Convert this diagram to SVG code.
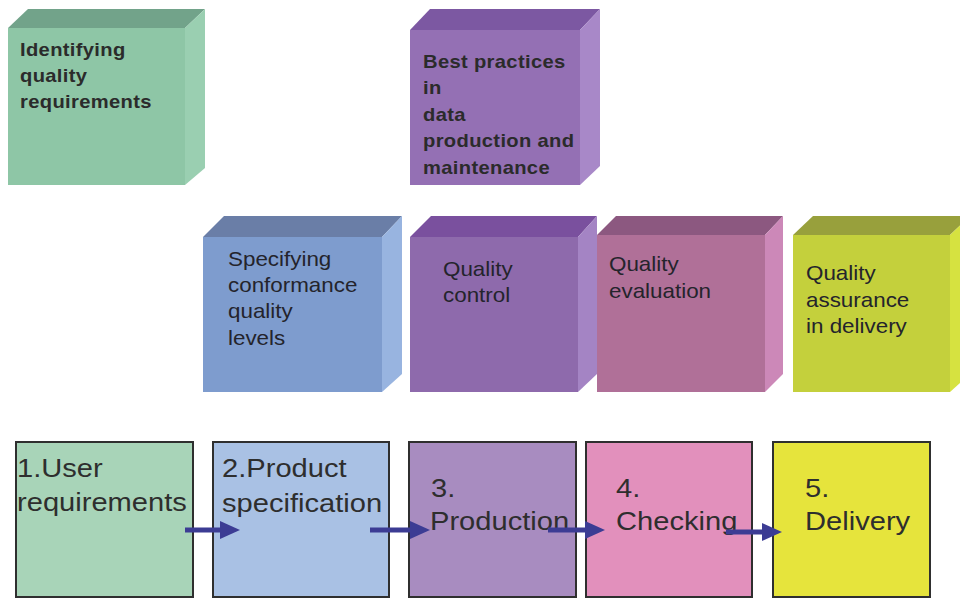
<svg xmlns="http://www.w3.org/2000/svg" width="960" height="599" viewBox="0 0 960 599">
  <style>
    .t1 { font-family: "Liberation Sans", Arial, sans-serif; font-size: 18px; font-weight: bold; letter-spacing: 0.3px; fill: #2b2b2b; }
    .t2 { font-family: "Liberation Sans", Arial, sans-serif; font-size: 20px; fill: #24242c; }
    .t3 { font-family: "Liberation Sans", Arial, sans-serif; font-size: 26px; fill: #2e2e2e; }
    .step { stroke: #2f2f2f; stroke-width: 2; }
    .conn { stroke: #3c3c94; stroke-width: 5; fill: none; marker-end: url(#head); }
  </style>
  <defs>
    <marker id="head" markerUnits="userSpaceOnUse" markerWidth="20" markerHeight="18" refX="2" refY="9" orient="auto">
      <path d="M0,0 L20,9 L0,18 Z" fill="#3c3c94"/>
    </marker>
  </defs>
  <rect width="960" height="599" fill="#ffffff"/>

  <!-- upper 3D blocks; labels use a slightly widened face (x scale 1.12) -->
  <g id="identifying-quality-requirements">
    <polygon points="8,28 28,9 205,9 185,28" fill="#72a38a"/>
    <polygon points="185,28 205,9 205,168 185,185" fill="#9acfb1"/>
    <rect x="8" y="28" width="177" height="157" fill="#8ec6a6"/>
    <g transform="matrix(1.12,0,0,1,20,0)">
      <text class="t1" x="0" y="56">Identifying</text>
      <text class="t1" x="0" y="82">quality</text>
      <text class="t1" x="0" y="108">requirements</text>
    </g>
  </g>

  <g id="best-practices">
    <polygon points="410,30 430,9 600,9 580,30" fill="#7c58a2"/>
    <polygon points="580,30 600,9 600,166 580,185" fill="#a888c8"/>
    <rect x="410" y="30" width="170" height="155" fill="#9470b4"/>
    <g transform="matrix(1.12,0,0,1,423,0)">
      <text class="t1" x="0" y="68">Best practices</text>
      <text class="t1" x="0" y="94">in</text>
      <text class="t1" x="0" y="121">data</text>
      <text class="t1" x="0" y="147">production and</text>
      <text class="t1" x="0" y="174">maintenance</text>
    </g>
  </g>

  <g id="specifying-conformance">
    <polygon points="203,237 224,216 402,216 382,237" fill="#6a7ea7"/>
    <polygon points="382,237 402,216 402,374 382,392" fill="#98b4e0"/>
    <rect x="203" y="237" width="179" height="155" fill="#7e9cce"/>
    <g transform="matrix(1.12,0,0,1,228,0)">
      <text class="t2" x="0" y="266">Specifying</text>
      <text class="t2" x="0" y="292">conformance</text>
      <text class="t2" x="0" y="318">quality</text>
      <text class="t2" x="0" y="345">levels</text>
    </g>
  </g>

  <g id="quality-control">
    <polygon points="410,237 431,216 597,216 578,237" fill="#7a509e"/>
    <polygon points="578,237 597,216 597,374 578,392" fill="#a484c4"/>
    <rect x="410" y="237" width="168" height="155" fill="#8e6aac"/>
    <g transform="matrix(1.12,0,0,1,443,0)">
      <text class="t2" x="0" y="276">Quality</text>
      <text class="t2" x="0" y="302">control</text>
    </g>
  </g>

  <g id="quality-evaluation">
    <polygon points="597,235 616,216 783,216 765,235" fill="#8c5880"/>
    <polygon points="765,235 783,216 783,374 765,392" fill="#cc88b8"/>
    <rect x="597" y="235" width="168" height="157" fill="#b07098"/>
    <g transform="matrix(1.12,0,0,1,609,0)">
      <text class="t2" x="0" y="271">Quality</text>
      <text class="t2" x="0" y="298">evaluation</text>
    </g>
  </g>

  <g id="quality-assurance">
    <polygon points="793,235 813,216 970,216 950,235" fill="#98a03c"/>
    <polygon points="950,235 970,216 970,374 950,392" fill="#d6e240"/>
    <rect x="793" y="235" width="157" height="157" fill="#c4d03c"/>
    <g transform="matrix(1.12,0,0,1,806,0)">
      <text class="t2" x="0" y="280">Quality</text>
      <text class="t2" x="0" y="307">assurance</text>
      <text class="t2" x="0" y="333">in delivery</text>
    </g>
  </g>

  <!-- process steps -->
  <g id="step-1">
    <rect class="step" x="16" y="442" width="177" height="155" fill="#a8d4b8"/>
    <g transform="matrix(1.12,0,0,1,17,0)">
      <text class="t3" x="0" y="477">1.User</text>
      <text class="t3" x="0" y="511">requirements</text>
    </g>
  </g>
  <g id="step-2">
    <rect class="step" x="213" y="442" width="176" height="155" fill="#a9c1e4"/>
    <g transform="matrix(1.12,0,0,1,222,0)">
      <text class="t3" x="0" y="477">2.Product</text>
      <text class="t3" x="0" y="512">specification</text>
    </g>
  </g>
  <g id="step-3">
    <rect class="step" x="409" y="442" width="167" height="155" fill="#a88cc0"/>
    <g transform="matrix(1.12,0,0,1,430,0)">
      <text class="t3" x="1" y="497">3.</text>
      <text class="t3" x="0" y="530">Production</text>
    </g>
  </g>
  <g id="step-4">
    <rect class="step" x="586" y="442" width="166" height="155" fill="#e290bc"/>
    <g transform="matrix(1.12,0,0,1,616,0)">
      <text class="t3" x="0" y="497">4.</text>
      <text class="t3" x="0" y="530">Checking</text>
    </g>
  </g>
  <g id="step-5">
    <rect class="step" x="773" y="442" width="157" height="155" fill="#e6e43c"/>
    <g transform="matrix(1.12,0,0,1,805,0)">
      <text class="t3" x="0" y="497">5.</text>
      <text class="t3" x="0" y="530">Delivery</text>
    </g>
  </g>

  <!-- flow arrows -->
  <g id="connectors">
    <line class="conn" x1="185" y1="530" x2="222" y2="530"/>
    <line class="conn" x1="370" y1="530" x2="412" y2="530"/>
    <line class="conn" x1="548" y1="530" x2="587" y2="530"/>
    <line class="conn" x1="726" y1="532" x2="764" y2="532"/>
  </g>
</svg>
